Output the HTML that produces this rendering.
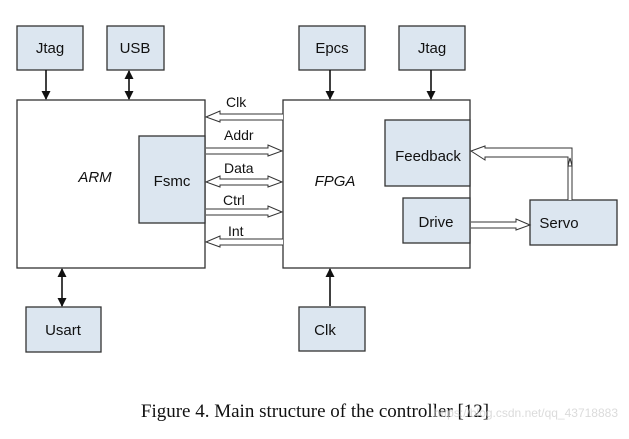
<!DOCTYPE html>
<html><head><style>
body{margin:0;background:#fff;width:629px;height:434px;overflow:hidden}
</style></head><body>
<svg width="629" height="434" xmlns="http://www.w3.org/2000/svg" font-family="Liberation Sans, sans-serif">
<defs>
<marker id="a" markerWidth="9" markerHeight="9" refX="8" refY="4.5" orient="auto" markerUnits="userSpaceOnUse"><path d="M0,0 L9,4.5 L0,9z" fill="#111"/></marker>
<marker id="as" markerWidth="9" markerHeight="9" refX="1" refY="4.5" orient="auto" markerUnits="userSpaceOnUse"><path d="M9,0 L0,4.5 L9,9z" fill="#111"/></marker>
</defs>
<g stroke="#333" stroke-width="1.3">
<rect x="17" y="26" width="66" height="44" fill="#dce6f0"/>
<rect x="107" y="26" width="57" height="44" fill="#dce6f0"/>
<rect x="17" y="100" width="188" height="168" fill="#fff"/>
<rect x="139" y="136" width="66" height="87" fill="#dce6f0"/>
<rect x="26" y="307" width="75" height="45" fill="#dce6f0"/>
<rect x="299" y="26" width="66" height="44" fill="#dce6f0"/>
<rect x="399" y="26" width="66" height="44" fill="#dce6f0"/>
<rect x="283" y="100" width="187" height="168" fill="#fff"/>
<rect x="385" y="120" width="85" height="66" fill="#dce6f0"/>
<rect x="403" y="198" width="67" height="45" fill="#dce6f0"/>
<rect x="530" y="200" width="87" height="45" fill="#dce6f0"/>
<rect x="299" y="307" width="66" height="44" fill="#dce6f0"/>
</g>
<g stroke="#111" stroke-width="1.6">
<line x1="46" y1="70" x2="46" y2="99" marker-end="url(#a)"/>
<line x1="129" y1="71" x2="129" y2="99" marker-end="url(#a)" marker-start="url(#as)"/>
<line x1="62" y1="269" x2="62" y2="306" marker-end="url(#a)" marker-start="url(#as)"/>
<line x1="330" y1="70" x2="330" y2="99" marker-end="url(#a)"/>
<line x1="431" y1="70" x2="431" y2="99" marker-end="url(#a)"/>
<line x1="330" y1="306" x2="330" y2="269" marker-end="url(#a)"/>
</g>
<g fill="#fff" stroke="#333" stroke-width="1">
<path d="M283,114 L220,114 L220,111 L206,117 L220,122 L220,120 L283,120"/>
<path d="M206,148 L268,148 L268,145 L282,151 L268,156 L268,154 L206,154"/>
<path d="M220,179 L268,179 L268,176 L282,182 L268,187 L268,185 L220,185 L220,187 L206,182 L220,176z"/>
<path d="M206,209 L268,209 L268,206 L282,212 L268,217 L268,215 L206,215"/>
<path d="M283,239 L220,239 L220,236 L206,242 L220,247 L220,245 L283,245"/>
<path d="M568,200 L568,157 L485,157 L485,160 L471,151 L485,146 L485,148 L572,148 L572,200"/>
<path d="M568,166 L570,158 L572,166z" fill="#fff"/>
<path d="M471,222 L516,222 L516,219 L530,225 L516,230 L516,228 L471,228"/>
</g>
<g font-size="15" fill="#111" text-anchor="middle">
<text x="50" y="53">Jtag</text>
<text x="135" y="53">USB</text>
<text x="63" y="335">Usart</text>
<text x="332" y="53">Epcs</text>
<text x="432" y="53">Jtag</text>
<text x="325" y="335">Clk</text>
<text x="172" y="186">Fsmc</text>
<text x="428" y="161">Feedback</text>
<text x="436" y="227">Drive</text>
<text x="559" y="228">Servo</text>
<text x="95" y="182" font-style="italic">ARM</text>
<text x="335" y="186" font-style="italic">FPGA</text>
<g font-size="14" text-anchor="start">
<text x="226" y="107">Clk</text>
<text x="224" y="140">Addr</text>
<text x="224" y="173">Data</text>
<text x="223" y="205">Ctrl</text>
<text x="228" y="236">Int</text>
</g>
</g>
<text x="315" y="417" text-anchor="middle" font-family="Liberation Serif, serif" font-size="19" fill="#111">Figure 4. Main structure of the controller [12]</text>
<text x="618" y="417" text-anchor="end" font-size="12" fill="#ccc" opacity="0.7">https://blog.csdn.net/qq_43718883</text>
</svg>
</body></html>
